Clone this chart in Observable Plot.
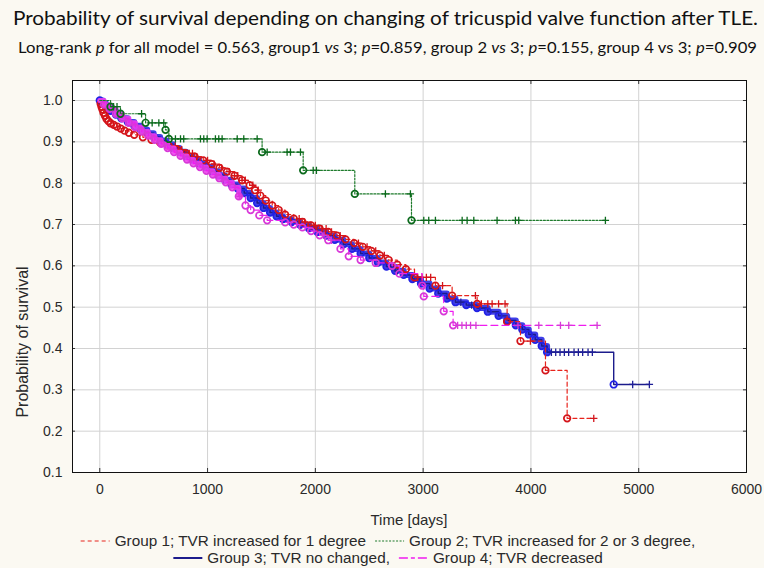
<!DOCTYPE html>
<html><head><meta charset="utf-8">
<script src="https://cdn.jsdelivr.net/npm/d3@7"></script>
<script src="https://cdn.jsdelivr.net/npm/@observablehq/plot@0.6"></script>
<style>
body{margin:0;background:#fbf9f2;}
#wrap{position:relative;width:764px;height:568px;background:#fbf9f2;overflow:hidden;}
#chart{position:absolute;left:0;top:0}
#overlay{position:absolute;left:0;top:0}
</style></head><body><div id="wrap"><div id="chart"></div><svg id="overlay" width="764" height="568"></svg></div>
<script>
// ---------- data ----------
const xTicks = [0, 1000, 2000, 3000, 4000, 5000, 6000];
const yTicks = [0.1, 0.2, 0.3, 0.4, 0.5, 0.6, 0.7, 0.8, 0.9, 1.0];

const groupNames = ["Group 1; TVR increased for 1 degree", "Group 2; TVR increased for 2 or 3 degree,", "Group 3; TVR no changed,", "Group 4; TVR decreased"];

// Group 1 (red) event times / survival
const g1T = [0, 8, 16, 25, 35, 48, 62, 80, 100, 130, 160, 195, 230, 270, 320, 400, 480, 560, 640, 720, 800, 880, 960, 1040, 1110, 1180, 1250, 1320, 1390, 1440, 1490, 1540, 1600, 1660, 1720, 1800, 1880, 1960, 2040, 2120, 2200, 2280, 2360, 2440, 2520, 2600, 2680, 2760, 2840, 2920, 3114, 3269, 3501, 3779, 3903, 4135, 4336];
const g1S = [1.000, 0.992, 0.985, 0.978, 0.970, 0.963, 0.956, 0.950, 0.945, 0.941, 0.937, 0.932, 0.927, 0.922, 0.917, 0.911, 0.905, 0.898, 0.890, 0.881, 0.872, 0.864, 0.855, 0.846, 0.837, 0.828, 0.818, 0.807, 0.795, 0.783, 0.770, 0.758, 0.746, 0.735, 0.724, 0.714, 0.706, 0.698, 0.690, 0.682, 0.673, 0.664, 0.655, 0.646, 0.636, 0.625, 0.614, 0.603, 0.592, 0.572, 0.552, 0.528, 0.508, 0.465, 0.418, 0.347, 0.231];
const g1Cens = [700, 730, 760, 800, 830, 860, 900, 1000, 1060, 1130, 1200, 1250, 1280, 1320, 1350, 1420, 1470, 1850, 1900, 1960, 2000, 2060, 2100, 2150, 2230, 2400, 2480, 2560, 2640, 2950, 2990, 3030, 3070, 3180, 3485, 3540, 3600, 3640, 3700, 3760, 3995, 4583];

// Group 2 (green)
const g2T = [0, 100, 192, 425, 610, 641, 1506, 1887, 2366, 2892];
const g2S = [1.000, 0.985, 0.968, 0.946, 0.929, 0.907, 0.875, 0.831, 0.774, 0.710];
const g2Cens = [128, 160, 388, 486, 548, 594, 702, 749, 779, 934, 965, 996, 1073, 1104, 1135, 1275, 1336, 1460, 1553, 1738, 1769, 1862, 1980, 2010, 2650, 2882, 3006, 3052, 3114, 3362, 3408, 3470, 3686, 3856, 3887, 4691];

// Group 3 (blue)
const g3T = [0, 30, 60, 100, 150, 200, 260, 320, 380, 440, 500, 560, 620, 680, 740, 800, 860, 920, 980, 1040, 1100, 1160, 1220, 1280, 1340, 1400, 1460, 1520, 1580, 1640, 1700, 1780, 1860, 1940, 2020, 2100, 2180, 2260, 2340, 2420, 2500, 2580, 2660, 2740, 2820, 2900, 2980, 3060, 3140, 3220, 3300, 3400, 3500, 3600, 3700, 3780, 3860, 3920, 3980, 4040, 4100, 4150, 4768];
const g3S = [1.000, 0.992, 0.984, 0.975, 0.966, 0.957, 0.948, 0.939, 0.930, 0.921, 0.912, 0.903, 0.894, 0.885, 0.876, 0.866, 0.857, 0.848, 0.839, 0.829, 0.819, 0.808, 0.797, 0.787, 0.776, 0.764, 0.752, 0.740, 0.729, 0.720, 0.713, 0.706, 0.699, 0.691, 0.682, 0.673, 0.663, 0.652, 0.641, 0.630, 0.619, 0.608, 0.598, 0.588, 0.578, 0.568, 0.557, 0.545, 0.533, 0.521, 0.512, 0.505, 0.498, 0.489, 0.479, 0.468, 0.456, 0.446, 0.434, 0.421, 0.406, 0.391, 0.313];
const g3Cens = [2700, 2760, 3350, 3450, 4190, 4230, 4270, 4310, 4350, 4400, 4440, 4480, 4530, 4570, 4944, 5099];

// Group 4 (magenta)
const g4T = [0, 40, 90, 150, 210, 270, 330, 390, 450, 510, 570, 630, 690, 750, 810, 870, 930, 990, 1050, 1110, 1170, 1230, 1290, 1352, 1400, 1480, 1553, 1720, 1800, 1880, 1960, 2040, 2120, 2233, 2310, 2420, 2560, 2712, 2780, 2991, 3006, 3191, 3278];
const g4S = [1.000, 0.990, 0.980, 0.968, 0.957, 0.946, 0.935, 0.925, 0.915, 0.905, 0.895, 0.885, 0.875, 0.866, 0.857, 0.848, 0.839, 0.830, 0.821, 0.812, 0.802, 0.790, 0.768, 0.746, 0.735, 0.722, 0.710, 0.705, 0.700, 0.693, 0.684, 0.674, 0.662, 0.641, 0.623, 0.614, 0.607, 0.600, 0.581, 0.552, 0.526, 0.490, 0.456];
const g4Cens = [1300, 2080, 2150, 3320, 3360, 3400, 3440, 3490, 3880, 4073, 4274, 4351, 4614];

// ---------- helpers ----------
function stepAt(T, S, t) { let v = S[0]; for (let i = 0; i < T.length; i++) if (T[i] <= t) v = S[i]; return v; }
function lineRows(T, S, cens) {
  const rows = T.map((t, i) => ({t, s: S[i]}));
  const end = Math.max(T[T.length - 1], cens[cens.length - 1]);
  rows.push({t: end, s: S[S.length - 1]});
  return rows;
}
function evRows(T, S, from) { return T.map((t, i) => ({t, s: S[i]})).slice(from); }
function cenRows(T, S, cens) { return cens.map(t => ({t, s: stepAt(T, S, t)})); }

const C = {
  r: {line: "#e8241c", mark: "#d4141a", dash: "4,3"},
  g: {line: "#1e7b2c", mark: "#0b6a1c", dash: "2,1.5"},
  b: {line: "#1c1c8c", mark: "#2121e4", cen: "#1f1f96", band: "#2a2ae6", dash: null},
  m: {line: "#f01cf0", mark: "#d838d8", band: "#f040f0", dash: "7,4"}
};

const yTop = 1.0484;
const tickLenY = 0.0097, tickLenX = 28;
const bandEnd3 = 4150, bandEnd4 = 1290;

const series = [
  {T: g3T, S: g3S, cens: g3Cens, c: C.b, w: 1.4, from: 0, band: bandEnd3, bw: 6},
  {T: g1T, S: g1S, cens: g1Cens, c: C.r, w: 1.2, from: 1},
  {T: g4T, S: g4S, cens: g4Cens, c: C.m, w: 1.2, from: 1, band: bandEnd4, bw: 5},
  {T: g2T, S: g2S, cens: g2Cens, c: C.g, w: 1.2, from: 1}
];

const dataMarks = [];
for (const sr of series) {
  const rows = lineRows(sr.T, sr.S, sr.cens);
  if (sr.band) dataMarks.push(Plot.line(rows.filter(d => d.t <= sr.band), {x: "t", y: "s", curve: "step-after", stroke: sr.c.band, strokeWidth: sr.bw, strokeOpacity: 0.9}));
  dataMarks.push(Plot.line(rows, {x: "t", y: "s", curve: "step-after", stroke: sr.c.line, strokeWidth: sr.w, strokeDasharray: sr.c.dash}));
  dataMarks.push(Plot.dot(evRows(sr.T, sr.S, sr.from), {x: "t", y: "s", r: 3.3, stroke: sr.c.mark, strokeWidth: 1.7, fill: "none"}));
  dataMarks.push(Plot.dot(cenRows(sr.T, sr.S, sr.cens), {x: "t", y: "s", symbol: "plus", r: 2.5, stroke: sr.c.cen || sr.c.mark, strokeWidth: 1.3}));
}

const chart = Plot.plot({
  width: 764, height: 568,
  marginTop: 80, marginBottom: 96, marginLeft: 72, marginRight: 18,
  style: {background: "transparent", fontFamily: "'Liberation Sans', Arial, sans-serif", fontSize: "14px", color: "#2a2a2a"},
  x: {domain: [-253, 6000], ticks: xTicks, tickSize: 0, tickPadding: 12, tickFormat: d => String(d), label: null},
  y: {domain: [0.1, yTop], ticks: yTicks, tickSize: 0, tickPadding: 10, tickFormat: d => d.toFixed(1), label: null},
  marks: [
    Plot.frame({fill: "white", stroke: "none"}),
    Plot.ruleX(xTicks, {stroke: "#d2d2d2", strokeWidth: 1}),
    Plot.ruleY(yTicks, {stroke: "#d2d2d2", strokeWidth: 1}),
    Plot.ruleX(xTicks, {y1: 0.1, y2: 0.1 + tickLenY, stroke: "#333"}),
    Plot.ruleX(xTicks, {y1: yTop - tickLenY, y2: yTop, stroke: "#333"}),
    Plot.ruleY(yTicks, {x1: -253, x2: -253 + tickLenX, stroke: "#333"}),
    Plot.ruleY(yTicks, {x1: 6000 - tickLenX, x2: 6000, stroke: "#333"}),
    ...dataMarks,
    Plot.frame({stroke: "#111", strokeWidth: 1})
  ]
});
document.getElementById("chart").appendChild(chart);

// ---------- titles, axis labels, legend ----------
const svg = d3.select("#overlay");
svg.append("text").attr("x", 13).attr("y", 25)
  .attr("textLength", 745).attr("lengthAdjust", "spacingAndGlyphs")
  .style("font-family", "Lato, 'Open Sans', sans-serif").style("font-size", "19.5px").style("fill", "#111")
  .text("Probability of survival depending on changing of tricuspid valve function after TLE.");

const sub = svg.append("text").attr("x", 18).attr("y", 53)
  .attr("textLength", 739).attr("lengthAdjust", "spacingAndGlyphs")
  .style("font-family", "Lato, 'Open Sans', sans-serif").style("font-size", "14.5px").style("fill", "#111");
const subParts = [["Long-rank ", 0], ["p", 1], [" for all model = 0.563, group1 ", 0], ["vs", 1], [" 3; ", 0], ["p", 1], ["=0.859, group 2 ", 0], ["vs", 1], [" 3; ", 0], ["p", 1], ["=0.155, group 4 vs 3; ", 0], ["p", 1], ["=0.909", 0]];
for (const [t, it] of subParts) sub.append("tspan").style("font-style", it ? "italic" : "normal").text(t);

const axFont = "'Liberation Sans', Arial, sans-serif";
svg.append("text").attr("x", 409).attr("y", 525).attr("text-anchor", "middle")
  .style("font-family", axFont).style("font-size", "15px").style("fill", "#2a2a2a").text("Time [days]");
svg.append("text").attr("transform", "translate(28,342) rotate(-90)").attr("text-anchor", "middle")
  .style("font-family", axFont).style("font-size", "16px").style("fill", "#2a2a2a").text("Probability of survival");

// legend
const legFont = 15.3;
const lines = [
  [{c: C.r.line, dash: C.r.dash, w: 1.2, name: groupNames[0]}, {c: C.g.line, dash: C.g.dash, w: 1.2, name: groupNames[1]}],
  [{c: C.b.line, dash: null, w: 2, name: groupNames[2]}, {c: C.m.line, dash: "9,3,4,3", w: 1.4, name: groupNames[3]}]
];
const lineY = [546, 563];
lines.forEach((items, li) => {
  const g = svg.append("g");
  let x = 0;
  items.forEach((it, k) => {
    if (k > 0) x += 9;
    g.append("line").attr("x1", x).attr("x2", x + 29).attr("y1", lineY[li] - 5).attr("y2", lineY[li] - 5)
      .attr("stroke", it.c).attr("stroke-width", it.w).attr("stroke-dasharray", it.dash);
    x += 34;
    const t = g.append("text").attr("x", x).attr("y", lineY[li])
      .style("font-family", axFont).style("font-size", legFont + "px").style("fill", "#2a2a2a").text(it.name);
    x += t.node().getComputedTextLength();
  });
  g.attr("transform", `translate(${388 - x / 2},0)`);
});
</script></body></html>
